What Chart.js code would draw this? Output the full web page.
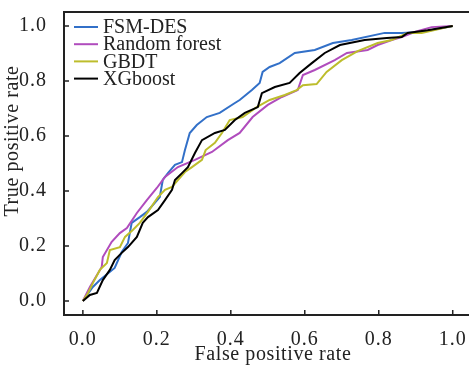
<!DOCTYPE html>
<html>
<head>
<meta charset="utf-8">
<script src="https://cdn.jsdelivr.net/npm/chart.js@4"></script>
<style>
html, body { margin: 0; padding: 0; background: #fff; }
</style>
</head>
<body>
<canvas id="chart" width="469" height="365"></canvas>
<script>
// [false positive rate, true positive rate]
const fsmDes = [[0,0],[0.027,0.051],[0.046,0.076],[0.086,0.12],[0.105,0.178],[0.122,0.211],[0.132,0.284],[0.154,0.305],[0.173,0.324],[0.208,0.378],[0.216,0.44],[0.23,0.465],[0.249,0.495],[0.268,0.505],[0.276,0.549],[0.289,0.611],[0.308,0.64],[0.335,0.669],[0.37,0.684],[0.411,0.72],[0.424,0.731],[0.457,0.767],[0.478,0.793],[0.486,0.833],[0.505,0.851],[0.532,0.865],[0.573,0.902],[0.627,0.913],[0.676,0.938],[0.727,0.949],[0.816,0.975],[0.862,0.975],[0.916,0.978],[1,1]];
const randomForest = [[0,0],[0.019,0.051],[0.051,0.124],[0.054,0.16],[0.078,0.215],[0.1,0.247],[0.119,0.265],[0.146,0.32],[0.173,0.367],[0.2,0.411],[0.222,0.451],[0.257,0.487],[0.303,0.513],[0.349,0.542],[0.392,0.585],[0.424,0.611],[0.459,0.669],[0.5,0.713],[0.538,0.742],[0.581,0.767],[0.595,0.822],[0.627,0.84],[0.681,0.876],[0.714,0.902],[0.77,0.913],[0.797,0.931],[0.835,0.949],[0.862,0.96],[0.897,0.978],[0.943,0.996],[1,1]];
const gbdt = [[0,0],[0.014,0.029],[0.027,0.065],[0.046,0.113],[0.065,0.138],[0.073,0.185],[0.1,0.196],[0.114,0.233],[0.135,0.258],[0.154,0.284],[0.176,0.324],[0.203,0.378],[0.222,0.404],[0.241,0.415],[0.257,0.44],[0.276,0.469],[0.295,0.487],[0.322,0.513],[0.332,0.549],[0.357,0.575],[0.376,0.611],[0.397,0.658],[0.432,0.669],[0.47,0.705],[0.505,0.731],[0.546,0.749],[0.578,0.767],[0.595,0.785],[0.632,0.789],[0.659,0.833],[0.7,0.876],[0.743,0.909],[0.797,0.938],[0.835,0.949],[0.878,0.975],[0.916,0.975],[0.986,0.996],[1,1]];
const xgboost = [[0,0],[0.019,0.022],[0.038,0.029],[0.054,0.076],[0.073,0.113],[0.086,0.149],[0.105,0.175],[0.122,0.196],[0.146,0.233],[0.162,0.284],[0.176,0.305],[0.203,0.331],[0.222,0.367],[0.241,0.404],[0.249,0.44],[0.268,0.465],[0.284,0.487],[0.303,0.538],[0.322,0.585],[0.357,0.611],[0.384,0.622],[0.411,0.658],[0.438,0.684],[0.473,0.705],[0.484,0.756],[0.519,0.778],[0.559,0.793],[0.586,0.829],[0.619,0.865],[0.654,0.902],[0.695,0.931],[0.762,0.949],[0.822,0.956],[0.862,0.96],[0.878,0.975],[0.932,0.985],[1,1]];

const seriesNames = ["FSM-DES", "Random forest", "GBDT", "XGboost"];
const seriesColors = ["#3270c8", "#b04cbd", "#bdbd2c", "#000000"];
const tickValues = [0, 0.2, 0.4, 0.6, 0.8, 1.0];
const xTitle = "False positive rate";
const yTitle = "True positive rate";

const FONT = "'Liberation Serif', 'Times New Roman', serif";

function toXY(arr) {
  return arr.map(p => ({ x: p[0], y: p[1] }));
}

function noPad(axis) {
  axis.paddingTop = 0;
  axis.paddingBottom = 0;
  axis.paddingLeft = 0;
  axis.paddingRight = 0;
}

const frame = {
  id: "frame",
  beforeDraw: (chart) => {
    chart.ctx.letterSpacing = "1px";
  },
  afterDraw: (chart) => {
    const { ctx, chartArea, scales } = chart;
    ctx.save();
    ctx.strokeStyle = "#222";
    ctx.lineWidth = 2;
    // top border
    ctx.beginPath();
    ctx.moveTo(chartArea.left, chartArea.top);
    ctx.lineTo(chartArea.right, chartArea.top);
    ctx.stroke();
    // inward ticks
    ctx.lineWidth = 1.5;
    ctx.beginPath();
    tickValues.forEach(v => {
      const px = scales.x.getPixelForValue(v);
      ctx.moveTo(px, chartArea.bottom);
      ctx.lineTo(px, chartArea.bottom - 5);
      const py = scales.y.getPixelForValue(v);
      ctx.moveTo(chartArea.left, py);
      ctx.lineTo(chartArea.left + 5, py);
    });
    ctx.stroke();
    // axis titles
    ctx.fillStyle = "#222";
    ctx.font = "20px " + FONT;
    ctx.textAlign = "center";
    ctx.textBaseline = "middle";
    ctx.letterSpacing = "0.6px";
    ctx.fillText(xTitle, 273, 355);
    ctx.save();
    ctx.translate(13, 141);
    ctx.rotate(-Math.PI / 2);
    ctx.fillText(yTitle, 0, 0);
    ctx.restore();
    // legend
    ctx.letterSpacing = "0px";
    ctx.textBaseline = "middle";
    ctx.textAlign = "left";
    ctx.lineWidth = 2;
    seriesNames.forEach((name, i) => {
      const y = 27 + i * 17.2;
      ctx.strokeStyle = seriesColors[i];
      ctx.beginPath();
      ctx.moveTo(74, y);
      ctx.lineTo(98, y);
      ctx.stroke();
      ctx.fillStyle = "#222";
      ctx.fillText(name, 103, y + 1);
    });
    ctx.restore();
  },
};

const datasets = [fsmDes, randomForest, gbdt, xgboost].map((d, i) => ({
  label: seriesNames[i],
  data: toXY(d),
  borderColor: seriesColors[i],
  borderWidth: 2,
  pointRadius: 0,
  tension: 0,
  fill: false,
}));
// black on top, blue below
datasets.reverse();

new Chart(document.getElementById("chart"), {
  type: "line",
  data: { datasets: datasets },
  options: {
    responsive: false,
    animation: false,
    devicePixelRatio: 1,
    layout: { padding: { top: 12, right: 0, left: 0, bottom: 0 } },
    plugins: { legend: { display: false }, tooltip: { enabled: false } },
    scales: {
      x: {
        type: "linear",
        min: -0.051,
        max: 1.044,
        afterBuildTicks: (axis) => { axis.ticks = tickValues.map(v => ({ value: v })); },
        afterFit: (axis) => { axis.height = 50; noPad(axis); },
        grid: { display: false },
        border: { display: true, color: "#222", width: 2 },
        ticks: {
          padding: 5,
          color: "#222",
          maxRotation: 0,
          font: { family: FONT, size: 20 },
          callback: (v) => v.toFixed(1),
        },
      },
      y: {
        type: "linear",
        min: -0.051,
        max: 1.051,
        afterBuildTicks: (axis) => { axis.ticks = tickValues.map(v => ({ value: v })); },
        afterFit: (axis) => { axis.width = 64; noPad(axis); },
        grid: { display: false },
        border: { display: true, color: "#222", width: 2 },
        ticks: {
          padding: 9,
          color: "#222",
          font: { family: FONT, size: 20 },
          callback: (v) => v.toFixed(1),
        },
      },
    },
  },
  plugins: [frame],
});
</script>
</body>
</html>
